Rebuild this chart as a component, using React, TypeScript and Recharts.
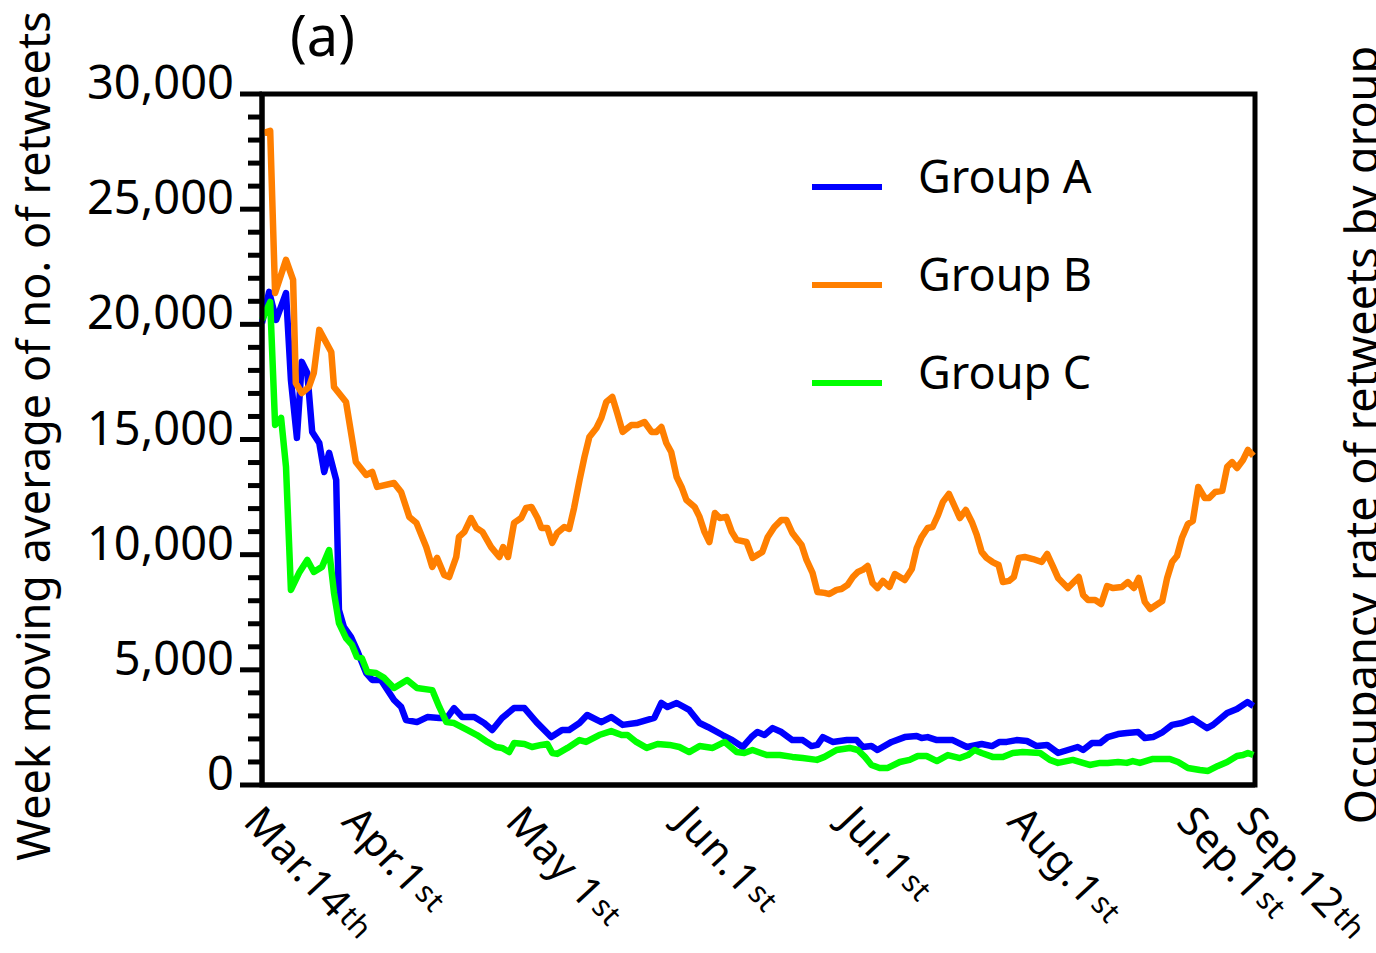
import { LineChart, Line, XAxis, YAxis, ReferenceArea } from 'recharts'

// days counted from Mar. 14th, values = week moving average of retweets
const groupADays = [
  0, 1.3, 2.6, 4.4, 5.3, 6.4, 7.3, 8.3, 9.2, 10.5, 11.4, 12.3, 13.6, 14.1, 15, 16.3, 17.4, 19.1, 20.2, 21.8,
  24.2, 25.5, 26.4, 28.4, 30.3, 32.5, 33.9, 35.2, 36.7, 38.9, 40.7, 42.2, 44, 46.2, 48.1, 50.3, 53, 55, 56.3,
  58.2, 59.6, 62.2, 64, 66.1, 68.6, 71.9, 73.2, 74.3, 76, 78.3, 80.2, 81.7, 84.4, 86.2, 88.1, 89.7, 90.8,
  92.1, 93.6, 95.2, 97.2, 99.1, 100.7, 101.8, 102.8, 104.6, 107.2, 109, 110.1, 111.7, 112.8, 115.4, 117.8,
  120, 120.9, 122, 123.7, 126.6, 129.2, 131.9, 133.8, 135.2, 136.5, 138.3, 140.2, 142, 143.9, 145.9, 147.7,
  149.5, 150.5, 152.1, 153.6, 155, 156.9, 158.5, 160.6, 161.8, 163.3, 165.1, 166.8, 168.6, 170.6, 173.2,
  174.3, 176.9, 178.7, 180.6, 181.7,
]
const groupAValues = [
  20060, 21410, 20190, 21360, 17590, 15070, 18370, 17890, 15330, 14850, 13590, 14420, 13240, 7600, 6860, 6430,
  5860, 4860, 4560, 4560, 3690, 3390, 2820, 2730, 2950, 2910, 2910, 3340, 2950, 2950, 2690, 2390, 2910, 3340,
  3340, 2730, 2080, 2390, 2390, 2690, 3040, 2730, 2950, 2610, 2690, 2910, 3560, 3390, 3560, 3260, 2690, 2520,
  2170, 1950, 1650, 2080, 2300, 2170, 2470, 2300, 1950, 1950, 1690, 1740, 2080, 1870, 1950, 1950, 1650, 1690,
  1520, 1870, 2080, 2130, 2040, 2080, 1950, 1950, 1650, 1780, 1690, 1870, 1870, 1950, 1910, 1690, 1740, 1390,
  1520, 1650, 1520, 1820, 1820, 2080, 2210, 2260, 2300, 2040, 2080, 2300, 2610, 2690, 2870, 2470, 2610, 3130,
  3300, 3600, 3430,
]

const groupBDays = [
  0.4, 1.5, 2.4, 4.4, 5.7, 6.2, 7.3, 8.6, 9.5, 10.5, 12.7, 13.2, 15.4, 17.2, 19.1, 20.2, 21.1, 24.2, 25.5, 27,
  28.3, 30.1, 31.2, 32.1, 33.4, 34.3, 35.6, 36.1, 37.1, 38.3, 39.3, 40.4, 42, 43.5, 44.2, 45.1, 46.2, 47.5,
  48.4, 49.4, 50.5, 51.2, 52.3, 53.2, 54.1, 55.4, 56.3, 57.2, 58.2, 59.1, 60, 61.3, 62.2, 63.1, 64.2, 65.1,
  66.1, 67.7, 68.8, 70.1, 71.4, 72.3, 73.2, 74.1, 75, 76, 76.9, 77.8, 79.3, 80.2, 81.1, 82, 83, 83.9, 85.1,
  86.1, 87, 88.8, 89.9, 91.7, 92.7, 93.9, 95.2, 96.1, 97.2, 98.9, 99.8, 100.9, 101.8, 103.1, 104, 105.3,
  106.2, 107.3, 108.3, 109.2, 110.1, 111, 111.9, 112.8, 113.8, 115, 116, 117.8, 119.1, 120, 120.9, 122, 122.9,
  123.9, 124.8, 125.9, 127, 127.9, 129, 130.1, 131, 131.9, 132.8, 133.9, 135, 135.8, 136.9, 137.8, 138.7,
  139.8, 141.3, 142.9, 143.9, 145, 145.9, 147.7, 149.7, 150.5, 151.4, 152.7, 153.8, 154.9, 156, 157.6, 158.7,
  159.8, 160.7, 161.8, 162.8, 165, 165.9, 166.8, 167.7, 168.6, 169.7, 170.6, 171.6, 172.8, 173.6, 174.7, 176,
  176.9, 177.8, 178.7, 179.8, 180.7, 181.7,
]
const groupBValues = [
  28310, 28400, 21360, 22800, 21930, 17450, 17020, 17280, 17890, 19760, 18800, 17280, 16630, 14020, 13460,
  13590, 12940, 13110, 12720, 11640, 11380, 10330, 9470, 9860, 9120, 9030, 9900, 10770, 10990, 11590, 11160,
  10990, 10330, 9900, 10330, 9900, 11380, 11590, 12030, 12070, 11590, 11160, 11160, 10510, 10940, 11200, 11120,
  12030, 13240, 14240, 15110, 15500, 15940, 16630, 16850, 16150, 15330, 15630, 15630, 15760, 15330, 15330,
  15540, 14850, 14460, 13370, 12940, 12370, 12070, 11640, 10990, 10550, 11810, 11590, 11640, 10990, 10640,
  10550, 9860, 10120, 10770, 11200, 11510, 11510, 10940, 10420, 9770, 9210, 8380, 8340, 8290, 8470, 8510, 8680,
  9030, 9250, 9340, 9510, 8770, 8550, 8860, 8600, 9160, 8900, 9380, 10290, 10770, 11160, 11200, 11720, 12290,
  12640, 12070, 11590, 11940, 11420, 10860, 10120, 9860, 9680, 9550, 8810, 8860, 9030, 9860, 9900, 9810, 9680,
  10030, 9470, 8990, 8550, 9030, 8250, 8030, 8030, 7860, 8640, 8550, 8600, 8810, 8550, 8990, 7950, 7640, 7990,
  8990, 9680, 9940, 10720, 11330, 11460, 12940, 12460, 12460, 12720, 12770, 13810, 14020, 13760, 14110, 14550,
  14290,
]

const groupCDays = [
  0, 1.5, 2.4, 3.5, 4.4, 5.3, 6.8, 8.3, 9.5, 11, 12.3, 13.2, 14.1, 15.4, 16.5, 17.4, 18.3, 19.3, 20.9, 22.4,
  24.2, 26.6, 28.4, 31.2, 32.5, 33.8, 35.2, 37.6, 39.4, 41.3, 42.9, 44, 45.3, 46.2, 48.1, 49.5, 51.2, 52.3,
  53.2, 54.1, 56, 58.2, 59.4, 61.8, 64, 65.9, 67, 68.6, 70.5, 72.5, 74.7, 76.5, 78.3, 80.2, 82.6, 84.8, 87,
  88.4, 89.9, 92.5, 94.9, 97.2, 99.1, 101.7, 103.1, 105.3, 107.7, 109.2, 110.5, 111.7, 113.2, 114.7, 116.9,
  118.7, 120.2, 121.8, 123.7, 125.7, 127.9, 129.4, 130.6, 131.9, 133.9, 135.8, 137.6, 139.4, 142.6, 144.4,
  145.9, 148.6, 151.7, 153.6, 155, 156.9, 158.5, 159.6, 160.9, 163.3, 166.4, 167.9, 169.7, 171.9, 173.4, 175.2,
  176.9, 178.7, 179.8, 180.7, 181.7,
]
const groupCValues = [
  20190, 20970, 15630, 15940, 13810, 8470, 9210, 9770, 9250, 9470, 10200, 8340, 7030, 6380, 6080, 5560, 5510,
  4910, 4860, 4650, 4210, 4560, 4210, 4120, 3390, 2730, 2690, 2390, 2170, 1870, 1650, 1610, 1430, 1820, 1780,
  1650, 1740, 1780, 1390, 1350, 1610, 1950, 1870, 2170, 2340, 2170, 2170, 1870, 1610, 1780, 1740, 1650, 1430,
  1690, 1610, 1870, 1430, 1390, 1520, 1300, 1300, 1220, 1170, 1090, 1220, 1520, 1610, 1520, 1220, 870, 740,
  740, 1000, 1090, 1260, 1260, 1040, 1300, 1170, 1300, 1520, 1390, 1220, 1220, 1390, 1430, 1390, 1090, 960,
  1090, 870, 960, 960, 1000, 960, 1040, 960, 1130, 1130, 1000, 740, 650, 610, 830, 1000, 1260, 1300, 1390,
  1300,
]

const xTickDays = [0, 18, 48, 79, 109, 140, 171, 182]
const xTickMain = ['Mar.14', 'Apr.1', 'May 1', 'Jun.1', 'Jul.1', 'Aug.1', 'Sep.1', 'Sep.12']
const xTickSup = ['th', 'st', 'st', 'st', 'st', 'st', 'st', 'th']

const yTicks = [
  0, 1000, 2000, 3000, 4000, 5000, 6000, 7000, 8000, 9000, 10000, 11000, 12000, 13000, 14000, 15000, 16000,
  17000, 18000, 19000, 20000, 21000, 22000, 23000, 24000, 25000, 26000, 27000, 28000, 29000, 30000,
]

const FONT = '"Noto Sans", "DejaVu Sans", sans-serif'

const series = [
  { name: 'Group A', color: '#0000ff', days: groupADays, values: groupAValues },
  { name: 'Group C', color: '#00ff00', days: groupCDays, values: groupCValues },
  { name: 'Group B', color: '#ff7f00', days: groupBDays, values: groupBValues },
]
const legendOrder = ['Group A', 'Group B', 'Group C']

function YTick(props: any) {
  const { x, y, payload } = props
  const v = payload.value as number
  const major = v % 5000 === 0
  return (
    <g>
      <line x1={x - (major ? 22 : 14)} x2={x} y1={y} y2={y} stroke="#000" strokeWidth={5} />
      {major && (
        <text x={x - 28} y={y + 5} textAnchor="end" fontSize={47} fontFamily={FONT} fill="#000">
          {v.toLocaleString('en-US')}
        </text>
      )}
    </g>
  )
}

function XTick(props: any) {
  const { x, y, payload } = props
  const i = xTickDays.indexOf(payload.value)
  if (i < 0) return null
  return (
    <text
      transform={`translate(${x - 20},${y + 38}) rotate(47)`}
      fontSize={41}
      fontFamily={FONT}
      letterSpacing={0.8}
      fill="#000"
    >
      {xTickMain[i]}
      <tspan fontSize={30} dx={2} dy={-5}>
        {xTickSup[i]}
      </tspan>
    </text>
  )
}

export default function App() {
  return (
    <div style={{ position: 'absolute', left: 0, top: 0, width: 1376, height: 953, background: '#fff' }}>
      <LineChart width={1376} height={953} margin={{ top: 94, right: 121, bottom: 108, left: 162 }}>
        <XAxis
          dataKey="day"
          type="number"
          domain={[0, 182]}
          ticks={xTickDays}
          interval={0}
          tickLine={false}
          tickSize={0}
          tickMargin={0}
          height={60}
          axisLine={{ stroke: '#000', strokeWidth: 5 }}
          tick={<XTick />}
        />
        <YAxis
          type="number"
          domain={[0, 30000]}
          ticks={yTicks}
          interval={0}
          width={100}
          tickLine={false}
          tickSize={0}
          tickMargin={0}
          axisLine={{ stroke: '#000', strokeWidth: 5 }}
          tick={<YTick />}
        />
        <ReferenceArea x1={0} x2={182} y1={0} y2={30000} fill="none" stroke="#000" strokeWidth={5} />
        {series.map((s) => (
          <Line
            key={s.name}
            data={s.days.map((d, i) => ({ day: d, value: s.values[i] }))}
            dataKey="value"
            type="linear"
            stroke={s.color}
            strokeWidth={6.5}
            strokeLinejoin="round"
            dot={false}
            isAnimationActive={false}
          />
        ))}
      </LineChart>
      <svg
        width={1376}
        height={953}
        style={{ position: 'absolute', left: 0, top: 0, pointerEvents: 'none' }}
      >
        <text x={290} y={56} fontSize={56} fontFamily={FONT} fill="#000">
          (a)
        </text>
        <text
          x={50}
          y={436}
          transform="rotate(-90 50 436)"
          textAnchor="middle"
          fontSize={45}
          fontFamily={FONT}
          fill="#000"
        >
          Week moving average of no. of retweets
        </text>
        <text
          x={1378}
          y={435}
          transform="rotate(-90 1378 435)"
          textAnchor="middle"
          fontSize={45}
          fontFamily={FONT}
          fill="#000"
        >
          Occupancy rate of retweets by group
        </text>
        {legendOrder.map((name, i) => {
          const s = series.find((it) => it.name === name)!
          const ly = 187 + i * 98
          return (
            <g key={name}>
              <line x1={812} x2={882} y1={ly} y2={ly} stroke={s.color} strokeWidth={6} />
              <text x={918} y={ly + 6} fontSize={45} fontFamily={FONT} fill="#000">
                {name}
              </text>
            </g>
          )
        })}
      </svg>
    </div>
  )
}
